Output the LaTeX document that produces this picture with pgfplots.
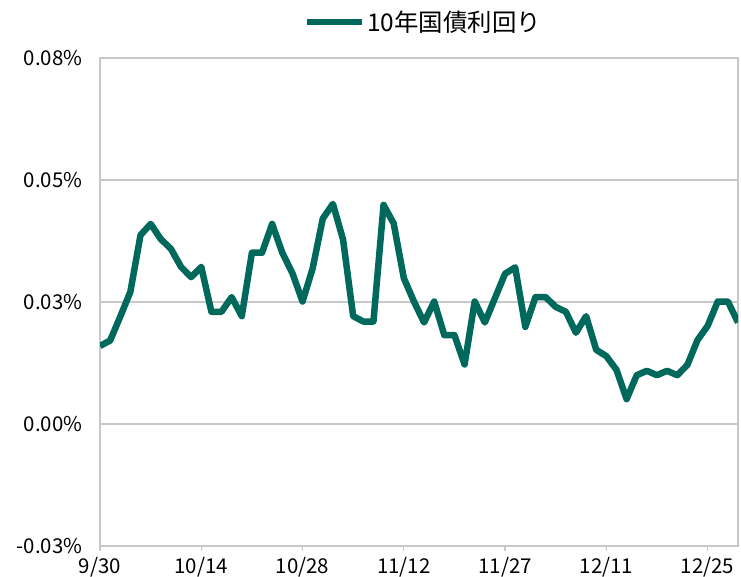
\documentclass[border=0pt]{standalone}
\usepackage{fontspec}
\setmainfont{Noto Sans CJK JP}
\usepackage{pgfplots}
\pgfplotsset{compat=1.18}
\definecolor{lineteal}{HTML}{00695C}
\definecolor{gridgray}{HTML}{C8C8C8}
\begin{document}
\begin{tikzpicture}
\useasboundingbox (0,0) rectangle (741bp,577bp);
\begin{axis}[
  at={(100bp,31bp)}, anchor=south west,
  width=638bp, height=488bp, scale only axis,
  xmin=0, xmax=63, ymin=-0.025, ymax=0.075,
  scaled y ticks=false,
  xtick={0,10,20,30,40,50,60},
  xticklabels={9/30,10/14,10/28,11/12,11/27,12/11,12/25},
  ytick={-0.025,0,0.025,0.05,0.075},
  yticklabels={-0.03\%,0.00\%,0.03\%,0.05\%,0.08\%},
  ymajorgrids,
  grid style={gridgray, line width=1.3bp},
  axis line style={gridgray, line width=1.3bp},
  xtick style={gridgray, line width=1.3bp},
  ytick style={draw=none},
  tick align=outside,
  xtick pos=bottom,
  major tick length=5bp,
  every tick label/.append style={font=\fontsize{20.5}{24}\selectfont, text=black},
  yticklabel style={xshift=-9bp},
  xticklabel style={yshift=-3bp},
  /pgf/number format/assume math mode=true,
  legend style={at={(0.507,1.074)}, anchor=center, draw=none, fill=none,
    font=\fontsize{24.5}{28}\selectfont, legend cell align=left,
    /tikz/every even column/.append style={column sep=0pt}},
  legend image code/.code={\draw[#1, line width=6.5bp] (0bp,0bp) -- (55bp,0bp);},
]
\addplot[lineteal, line width=6.5bp, line join=round] table {
x y
0 0.0160
1 0.0171
2 0.0220
3 0.0271
4 0.0387
5 0.0410
6 0.0379
7 0.0359
8 0.0322
9 0.0301
10 0.0322
11 0.0230
12 0.0230
13 0.0260
14 0.0221
15 0.0351
16 0.0351
17 0.0410
18 0.0351
19 0.0309
20 0.0251
21 0.0319
22 0.0421
23 0.0451
24 0.0378
25 0.0221
26 0.0210
27 0.0210
28 0.0449
29 0.0411
30 0.0299
31 0.0251
32 0.0208
33 0.0251
34 0.0182
35 0.0182
36 0.0122
37 0.0251
38 0.0208
39 0.0258
40 0.0308
41 0.0321
42 0.0199
43 0.0260
44 0.0260
45 0.0240
46 0.0230
47 0.0187
48 0.0221
49 0.0152
50 0.0139
51 0.0111
52 0.0051
53 0.0100
54 0.0109
55 0.0100
56 0.0109
57 0.0100
58 0.0121
59 0.0172
60 0.0201
61 0.0251
62 0.0251
63 0.0208
};
\addlegendentry{10年国債利回り}
\end{axis}
\end{tikzpicture}
\end{document}
